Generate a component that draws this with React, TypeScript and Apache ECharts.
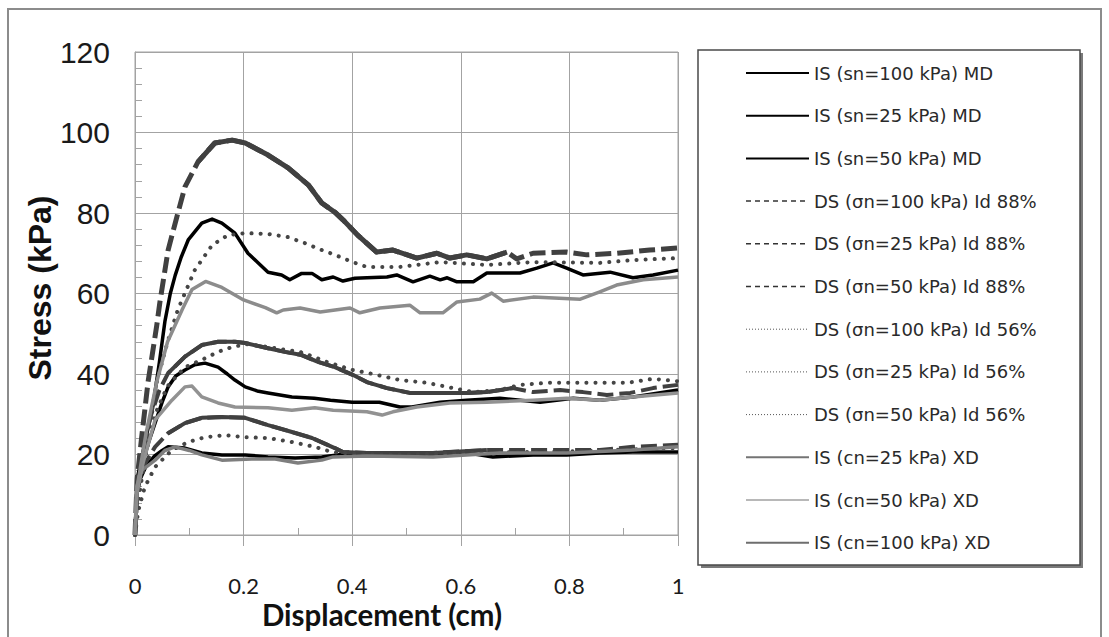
import React, { useEffect, useRef } from "react";
import * as echarts from "echarts";

type Pt = [number, number];

// Axis ticks
const X_TICKS = [0, 0.2, 0.4, 0.6, 0.8, 1];
const Y_TICKS = [0, 20, 40, 60, 80, 100, 120];

// Legend / series names
const NAMES = [
  "IS (sn=100 kPa) MD",
  "IS (sn=25 kPa) MD",
  "IS (sn=50 kPa) MD",
  "DS (σn=100 kPa) Id 88%",
  "DS (σn=25 kPa) Id 88%",
  "DS (σn=50 kPa) Id 88%",
  "DS (σn=100 kPa) Id 56%",
  "DS (σn=25 kPa) Id 56%",
  "DS (σn=50 kPa) Id 56%",
  "IS (cn=25 kPa) XD",
  "IS (cn=50 kPa) XD",
  "IS (cn=100 kPa) XD",
];

// [displacement (cm), stress (kPa)]
const IS_MD_100: Pt[] = [
  [0, 0], [0.004, 14], [0.02, 24], [0.033, 32], [0.045, 43], [0.055, 53], [0.065, 60],
  [0.074, 64.5], [0.085, 69], [0.098, 73.3], [0.123, 77.5], [0.142, 78.5], [0.16, 77.5],
  [0.184, 75], [0.208, 70], [0.227, 67.6], [0.245, 65.3], [0.27, 64.6], [0.285, 63.4],
  [0.307, 65], [0.326, 65], [0.344, 63.4], [0.365, 64.1], [0.383, 63.1], [0.405, 63.8],
  [0.427, 63.9], [0.464, 64.1], [0.482, 64.6], [0.512, 62.9], [0.543, 64.3], [0.562, 63.4],
  [0.575, 63.9], [0.593, 62.9], [0.623, 62.9], [0.648, 65.1], [0.709, 65.1], [0.74, 66.3],
  [0.77, 67.6], [0.795, 66.3], [0.825, 64.6], [0.875, 65.3], [0.917, 63.9], [0.954, 64.6],
  [1.0, 65.8],
];
const IS_MD_25: Pt[] = [
  [0, 0], [0.003, 10], [0.01, 14], [0.02, 17], [0.035, 19.5], [0.05, 21], [0.061, 21.9],
  [0.092, 21.6], [0.123, 20.4], [0.16, 19.9], [0.203, 19.9], [0.245, 19.4], [0.295, 19.1],
  [0.344, 19.4], [0.401, 20.4], [0.45, 20], [0.488, 19.9], [0.55, 20.1], [0.611, 20.4],
  [0.659, 19.4], [0.733, 19.9], [0.795, 19.9], [0.856, 20.4], [0.917, 20.6], [1.0, 20.6],
];
const IS_MD_50: Pt[] = [
  [0, 0], [0.003, 10], [0.012, 17], [0.025, 23], [0.04, 29], [0.05, 33], [0.061, 36.8],
  [0.075, 39.5], [0.092, 41], [0.11, 42.3], [0.129, 42.7], [0.153, 41.7], [0.17, 40],
  [0.184, 38.5], [0.203, 36.8], [0.225, 35.8], [0.245, 35.3], [0.289, 34.3], [0.33, 34],
  [0.36, 33.5], [0.4, 33], [0.45, 33], [0.488, 31.8], [0.51, 31.8], [0.562, 33],
  [0.611, 33.5], [0.672, 34], [0.746, 33], [0.807, 34], [0.856, 33.5], [0.917, 34.3],
  [1.0, 36],
];
const DS_88_100: Pt[] = [
  [0, 0], [0.004, 14], [0.012, 24], [0.024, 38], [0.04, 52], [0.046, 58], [0.061, 70.8],
  [0.077, 79], [0.092, 86.5], [0.116, 92.7], [0.147, 97.4], [0.179, 98.1], [0.203, 97.4],
  [0.245, 94.4], [0.282, 91.2], [0.319, 87], [0.344, 82.5], [0.368, 80.2], [0.383, 78.3],
  [0.41, 74.5], [0.445, 70.3], [0.475, 70.8], [0.519, 68.8], [0.556, 70], [0.58, 68.8],
  [0.611, 69.6], [0.648, 68.6], [0.685, 70.3], [0.703, 68.6], [0.733, 70], [0.795, 70.3],
  [0.832, 69.6], [0.887, 70], [0.948, 70.8], [1.0, 71.3],
];
const DS_88_25: Pt[] = [
  [0, 0], [0.004, 12], [0.015, 17], [0.037, 21.9], [0.061, 25.3], [0.092, 27.8],
  [0.123, 29.1], [0.16, 29.3], [0.203, 29.1], [0.245, 27.3], [0.289, 25.6], [0.326, 24.1],
  [0.368, 21.6], [0.383, 20.6], [0.427, 20.4], [0.549, 20.4], [0.648, 21.1], [0.77, 21.1],
  [0.856, 21.1], [0.917, 21.9], [1.0, 22.4],
];
const DS_88_50: Pt[] = [
  [0, 0], [0.004, 12], [0.015, 22], [0.03, 30], [0.045, 36], [0.061, 40.2], [0.092, 44.3],
  [0.123, 47.2], [0.153, 48], [0.184, 48], [0.203, 47.7], [0.245, 46.4], [0.276, 45.5],
  [0.307, 44.7], [0.337, 43], [0.368, 41.7], [0.401, 39.8], [0.427, 38], [0.464, 36.5],
  [0.506, 35.3], [0.562, 35.3], [0.611, 35.3], [0.648, 35.5], [0.696, 36.5], [0.733, 35.5],
  [0.783, 36], [0.825, 35.5], [0.869, 34.8], [0.912, 35.3], [0.954, 36.5], [1.0, 37.3],
];
const DS_56_100: Pt[] = [
  [0, 0], [0.005, 8], [0.02, 22], [0.04, 38], [0.06, 48], [0.079, 56], [0.11, 65.8],
  [0.142, 72], [0.171, 74.5], [0.203, 75], [0.245, 74.8], [0.282, 74], [0.313, 72.5],
  [0.344, 70.8], [0.368, 69.6], [0.401, 67.8], [0.427, 66.6], [0.488, 66.6], [0.562, 67.8],
  [0.648, 67.1], [0.733, 67.8], [0.856, 67.6], [0.917, 68.3], [1.0, 68.8],
];
const DS_56_25: Pt[] = [
  [0, 0], [0.006, 6], [0.018, 11.9], [0.037, 16.9], [0.068, 21.1], [0.098, 23.1],
  [0.129, 24.3], [0.166, 24.8], [0.203, 24.3], [0.245, 24.1], [0.289, 23.1], [0.331, 21.9],
  [0.363, 20.6], [0.4, 20.2], [0.45, 20], [0.5, 20], [0.55, 20.2], [0.6, 20.4], [0.7, 20.6],
  [0.8, 20.8], [0.9, 21.2], [1.0, 21.6],
];
const DS_56_50: Pt[] = [
  [0, 0], [0.005, 8], [0.02, 20], [0.037, 30], [0.06, 37], [0.092, 41.7], [0.123, 43.5],
  [0.153, 45.5], [0.179, 46.7], [0.205, 47.4], [0.24, 46.8], [0.276, 46], [0.304, 45.5],
  [0.331, 44.2], [0.353, 43], [0.401, 41], [0.445, 39.8], [0.488, 38.5], [0.538, 37.8],
  [0.586, 36.5], [0.623, 35.5], [0.672, 36], [0.709, 37.3], [0.759, 37.8], [0.807, 37.8],
  [0.856, 37.8], [0.906, 37.8], [0.954, 38.8], [1.0, 38.2],
];
const IS_XD_25: Pt[] = [
  [0, 0], [0.003, 12], [0.012, 16], [0.037, 18.6], [0.055, 21], [0.074, 21.9], [0.1, 21],
  [0.123, 19.9], [0.16, 18.6], [0.215, 18.9], [0.258, 18.9], [0.3, 17.9], [0.344, 18.6],
  [0.365, 19.4], [0.427, 19.6], [0.549, 19.4], [0.672, 20.4], [0.795, 20.4], [0.917, 21.1],
  [1.0, 21.9],
];
const IS_XD_50: Pt[] = [
  [0, 0], [0.003, 10], [0.015, 18], [0.037, 28.6], [0.068, 33.5], [0.092, 36.8],
  [0.105, 37], [0.123, 34.3], [0.153, 32.8], [0.184, 31.8], [0.245, 31.6], [0.289, 31],
  [0.331, 31.6], [0.365, 31], [0.427, 30.6], [0.455, 29.8], [0.475, 30.6], [0.519, 31.8],
  [0.58, 32.8], [0.648, 33], [0.733, 33.5], [0.795, 34], [0.856, 33.5], [0.917, 34.3],
  [1.0, 35.3],
];
const IS_XD_100: Pt[] = [
  [0, 0], [0.004, 12], [0.02, 25], [0.04, 38], [0.06, 48], [0.087, 56], [0.105, 61],
  [0.13, 63], [0.16, 61.5], [0.2, 58.4], [0.24, 56.5], [0.261, 55.2], [0.273, 55.9],
  [0.304, 56.4], [0.341, 55.4], [0.396, 56.4], [0.414, 55.2], [0.451, 56.4], [0.506, 57.1],
  [0.525, 55.2], [0.567, 55.2], [0.593, 57.9], [0.635, 58.6], [0.657, 60.1], [0.678, 58.1],
  [0.733, 59.1], [0.82, 58.6], [0.856, 60.4], [0.887, 62.1], [0.936, 63.4], [1.0, 64.1],
];

const DATA: Pt[][] = [
  IS_MD_100, IS_MD_25, IS_MD_50,
  DS_88_100, DS_88_25, DS_88_50,
  DS_56_100, DS_56_25, DS_56_50,
  IS_XD_25, IS_XD_50, IS_XD_100,
];

type Sty = {
  color: string;
  width: number;
  type: any;
  cap?: string;
  solid?: [number, number];
  leg: { color: string; width: number; type: any };
};

const DOT = [0.1, 9];
const STYLES: Sty[] = [
  { color: "#000", width: 3.5, type: "solid", leg: { color: "#000", width: 2, type: "solid" } },
  { color: "#000", width: 3.5, type: "solid", leg: { color: "#000", width: 2, type: "solid" } },
  { color: "#000", width: 3.5, type: "solid", leg: { color: "#000", width: 2, type: "solid" } },
  { color: "#404040", width: 5, type: [16, 6], solid: [0.1, 0.7], leg: { color: "#333", width: 1.5, type: [5, 4] } },
  { color: "#404040", width: 4, type: [16, 6], solid: [0.05, 0.75], leg: { color: "#333", width: 1.5, type: [5, 4] } },
  { color: "#404040", width: 4, type: [16, 6], solid: [0.05, 0.7], leg: { color: "#333", width: 1.5, type: [5, 4] } },
  { color: "#454545", width: 4, type: DOT, cap: "round", leg: { color: "#555", width: 1, type: [1, 2] } },
  { color: "#454545", width: 4, type: DOT, cap: "round", leg: { color: "#555", width: 1, type: [1, 2] } },
  { color: "#454545", width: 4, type: DOT, cap: "round", leg: { color: "#555", width: 1, type: [1, 2] } },
  { color: "#7e7e7e", width: 3.5, type: "solid", leg: { color: "#747474", width: 2, type: "solid" } },
  { color: "#929292", width: 3.5, type: "solid", leg: { color: "#a0a0a0", width: 1.5, type: "solid" } },
  { color: "#8c8c8c", width: 3.5, type: "solid", leg: { color: "#6e6e6e", width: 2, type: "solid" } },
];

const GRID = { left: 135, top: 52, width: 543, height: 483 };
const GRID_COLOR = "#a3a3a3";
const HIDDEN = "rgba(0,0,0,0)";

export default function App() {
  const ref = useRef<HTMLDivElement>(null);

  useEffect(() => {
    if (!ref.current) return;
    const chart = echarts.init(ref.current, undefined, { renderer: "svg" });

    const series: any[] = [];
    NAMES.forEach((name, i) => {
      const s = STYLES[i];
      const base = {
        type: "line",
        name,
        xAxisIndex: 0,
        yAxisIndex: 0,
        symbol: "none",
        showSymbol: false,
        silent: true,
        emphasis: { disabled: true },
        itemStyle: { color: s.color },
        z: 2 + i,
      };
      series.push({
        ...base,
        data: DATA[i],
        lineStyle: { color: s.color, width: s.width, type: s.type, cap: s.cap || "butt", join: "round" },
      });
      if (s.solid) {
        const [a, b] = s.solid;
        series.push({
          ...base,
          data: DATA[i].filter((p) => p[0] >= a && p[0] <= b),
          lineStyle: { color: s.color, width: s.width, type: "solid", join: "round" },
        });
      }
    });

    const option: any = {
      animation: false,
      backgroundColor: "#ffffff",
      grid: [
        { ...GRID, show: true, borderColor: GRID_COLOR, borderWidth: 1, backgroundColor: "transparent" },
        { ...GRID, show: false },
      ],
      xAxis: [
        {
          type: "value",
          gridIndex: 0,
          min: X_TICKS[0],
          max: X_TICKS[X_TICKS.length - 1],
          interval: 0.2,
          axisLine: { show: true, lineStyle: { color: GRID_COLOR } },
          axisTick: { show: true, inside: false, length: 11, lineStyle: { color: GRID_COLOR } },
          splitLine: { show: true, lineStyle: { color: GRID_COLOR, width: 1 } },
          axisLabel: { margin: 39, fontSize: 22, fontFamily: "Lato", color: "#1a1a1a" },
        },
        {
          type: "value",
          gridIndex: 1,
          min: X_TICKS[0],
          max: X_TICKS[X_TICKS.length - 1],
          interval: 0.2,
          axisLine: { show: false },
          axisLabel: { show: false },
          splitLine: { show: false },
          axisTick: { show: true, inside: true, length: 1, lineStyle: { color: GRID_COLOR } },
          minorTick: { show: true, splitNumber: 2, length: 7, lineStyle: { color: GRID_COLOR } },
        },
      ],
      yAxis: [
        {
          type: "value",
          gridIndex: 0,
          min: Y_TICKS[0],
          max: Y_TICKS[Y_TICKS.length - 1],
          interval: 20,
          axisLine: { show: true, lineStyle: { color: GRID_COLOR } },
          axisTick: { show: true, inside: true, length: 7, lineStyle: { color: GRID_COLOR } },
          minorTick: { show: true, splitNumber: 5, length: 7, lineStyle: { color: GRID_COLOR } },
          splitLine: { show: true, lineStyle: { color: GRID_COLOR, width: 1 } },
          axisLabel: { margin: 25, fontSize: 30, fontFamily: "Liberation Sans", color: "#1a1a1a" },
        },
        {
          type: "value",
          gridIndex: 1,
          min: 0,
          max: 120,
          interval: 20,
          show: false,
        },
      ],
      legend: {
        orient: "vertical",
        left: 745,
        top: 64,
        padding: 0,
        itemWidth: 63,
        itemHeight: 14,
        itemGap: 24.7,
        selectedMode: false,
        textStyle: { fontFamily: "DejaVu Sans", fontSize: 18, color: "#2a2a2a" },
        data: NAMES.map((n, i) => ({
          name: n,
          lineStyle: { color: STYLES[i].leg.color, width: STYLES[i].leg.width, type: STYLES[i].leg.type, cap: "butt" },
          itemStyle: { color: HIDDEN, borderColor: HIDDEN, borderWidth: 0, opacity: 0 },
        })),
      },
      graphic: [
        {
          type: "rect",
          z: 0,
          silent: true,
          shape: { x: 8, y: 9, width: 1093, height: 640 },
          style: { fill: "none", stroke: "#8c8c8c", lineWidth: 2 },
        },
        {
          type: "rect",
          z: 0,
          silent: true,
          shape: { x: 701, y: 53, width: 382, height: 515 },
          style: { fill: "#7a7a7a", stroke: "none" },
        },
        {
          type: "rect",
          z: 1,
          silent: true,
          shape: { x: 698, y: 50, width: 382, height: 515 },
          style: { fill: "#ffffff", stroke: "#4a4a4a", lineWidth: 1.5 },
        },
        {
          type: "text",
          z: 5,
          silent: true,
          x: 382,
          y: 614,
          style: {
            text: "Displacement (cm)",
            font: 'bold 29.5px "Lato"',
            fill: "#111",
            align: "center",
            verticalAlign: "middle",
            textAlign: "center",
            textVerticalAlign: "middle",
          },
        },
        {
          type: "text",
          z: 5,
          silent: true,
          x: 40,
          y: 288,
          rotation: Math.PI / 2,
          style: {
            text: "Stress (kPa)",
            font: 'bold 32px "Liberation Sans"',
            fill: "#111",
            align: "center",
            verticalAlign: "middle",
            textAlign: "center",
            textVerticalAlign: "middle",
          },
        },
      ],
      series,
    };

    chart.setOption(option);
    return () => chart.dispose();
  }, []);

  return (
    <div
      ref={ref}
      style={{ position: "fixed", left: 0, top: 0, width: 1109, height: 637, background: "#fff" }}
    />
  );
}
